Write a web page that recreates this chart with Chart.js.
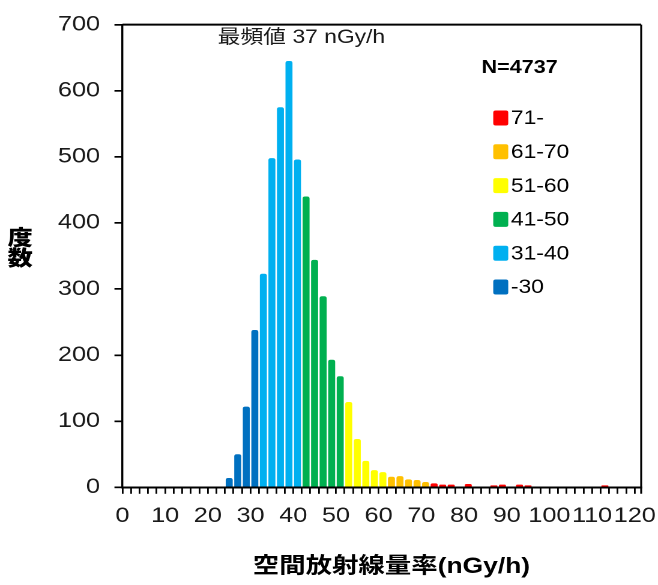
<!DOCTYPE html>
<html>
<head>
<meta charset="utf-8">
<script src="https://cdn.jsdelivr.net/npm/chart.js@4"></script>
<style>
  html, body { margin: 0; padding: 0; background: #fff; overflow: hidden; }
  /* chart is laid out narrow and widened to the final 658px */
  #wrap { position: absolute; left: 0; top: 0; width: 548px; height: 585px;
          transform: scaleX(1.2007); transform-origin: 0 0; }
</style>
</head>
<body>
<div id="wrap"><canvas id="hist"></canvas></div>
<script>
// histogram bars, one per 2 nGy/h bin (bar sits over [c-1, c+1])
const binCenters = [25, 27, 29, 31, 33, 35, 37, 39, 41, 43, 45, 47, 49, 51, 53, 55, 57, 59, 61,
                    63, 65, 67, 69, 71, 73, 75, 77, 81, 87, 89, 93, 95, 113];
const counts = [14, 50, 122, 238, 323, 498, 575, 645, 496, 440, 344, 289, 193, 168, 129, 73, 40, 26, 23,
                16, 17, 12, 11, 8, 6, 4, 4, 5, 3, 4, 4, 3, 3];

// colour classes
const groupLabels = ['-30', '31-40', '41-50', '51-60', '61-70', '71-'];
const groupUpper = [30, 40, 50, 60, 70, Infinity];
const groupColors = ['#0070C0', '#00B0F0', '#00B050', '#FFFF00', '#FFC000', '#FF0000'];

const yTicks = [0, 100, 200, 300, 400, 500, 600, 700];
const xLabelStep = 10;

const totalN = 4737;
const modeText = '最頻値 37 nGy/h';
const xTitle = '空間放射線量率(nGy/h)';
const yTitle = ['度', '数'];

function colorFor(c) {
    for (let i = 0; i < groupUpper.length; i++) {
        if (c - 1 <= groupUpper[i]) return groupColors[i];
    }
    return groupColors[groupColors.length - 1];
}

const tickFont = { family: "'Liberation Sans', Arial, sans-serif", size: 21 };

const decor = {
    id: 'decor',
    afterDraw(chart) {
        const { ctx, chartArea: a } = chart;
        ctx.save();
        // frame top and right (right edge runs down like a tick)
        ctx.strokeStyle = '#000';
        ctx.lineWidth = 2;
        ctx.beginPath();
        ctx.moveTo(a.left, a.top);
        ctx.lineTo(a.right, a.top);
        ctx.stroke();
        ctx.lineWidth = 1.6;
        ctx.beginPath();
        ctx.moveTo(a.right, a.top);
        ctx.lineTo(a.right, a.bottom + 6.5);
        ctx.stroke();

        ctx.fillStyle = '#1a1a1a';
        ctx.textBaseline = 'middle';

        // mode note
        ctx.textAlign = 'center';
        ctx.font = "19px 'Liberation Sans', 'Noto Sans CJK JP', sans-serif";
        ctx.fillText(modeText, 251, 38);

        // N
        ctx.textAlign = 'left';
        ctx.fillStyle = '#000';
        ctx.font = "bold 18px 'Liberation Sans Narrow', 'Liberation Sans', sans-serif";
        ctx.fillText('N=' + totalN, 401, 68);

        // legend, last class on top
        ctx.font = "19px 'Liberation Sans', Arial, sans-serif";
        for (let i = groupLabels.length - 1, row = 0; i >= 0; i--, row++) {
            const y = 118 + row * 33.8;
            ctx.fillStyle = groupColors[i];
            ctx.beginPath();
            ctx.roundRect(410.8, y - 7.5, 12.5, 15, 2);
            ctx.fill();
            ctx.fillStyle = '#000';
            ctx.fillText(groupLabels[i], 425.5, y + 1);
        }

        // axis titles
        ctx.fillStyle = '#000';
        ctx.textAlign = 'center';
        ctx.font = "bold 22px 'Liberation Sans', 'Noto Sans CJK JP', sans-serif";
        ctx.fillText(xTitle, 326, 567);
        ctx.font = "900 21px 'Noto Sans CJK JP', sans-serif";
        ctx.fillText(yTitle[0], 16.7, 237);
        ctx.fillText(yTitle[1], 16.7, 257.5);
        ctx.restore();
    }
};

new Chart(document.getElementById('hist'), {
    type: 'bar',
    data: {
        datasets: [{
            data: binCenters.map((c, i) => ({ x: c, y: counts[i] })),
            backgroundColor: binCenters.map(colorFor),
            borderWidth: 0,
            borderRadius: { topLeft: 2, topRight: 2 },
            borderSkipped: 'bottom',
            barPercentage: 1.0,
            categoryPercentage: 0.82
        }]
    },
    options: {
        responsive: true,
        maintainAspectRatio: false,
        animation: false,
        devicePixelRatio: 2,
        layout: { padding: { top: 19.5, right: 14, left: 0, bottom: 0 } },
        plugins: { legend: { display: false }, tooltip: { enabled: false } },
        scales: {
            x: {
                type: 'linear',
                min: 0,
                max: 121.5,
                offset: false,
                z: 1,
                grid: { offset: false, drawOnChartArea: false, drawTicks: true, tickLength: 6.5,
                        color: '#000', lineWidth: 1.4 },
                border: { color: '#000', width: 2 },
                ticks: {
                    stepSize: 2,
                    includeBounds: false,
                    autoSkip: false,
                    maxRotation: 0,
                    padding: 10,
                    color: '#1a1a1a',
                    font: tickFont,
                    callback: v => (v % xLabelStep === 0 ? v : '')
                },
                afterFit: s => { s.height = 97.7; s.paddingRight = 0; }
            },
            y: {
                min: yTicks[0],
                max: yTicks[yTicks.length - 1],
                grid: { drawOnChartArea: false, drawTicks: true, tickLength: 6.7,
                        color: '#000', lineWidth: 1.7 },
                border: { color: '#000', width: 1.7 },
                ticks: {
                    stepSize: 100,
                    padding: 12,
                    color: '#1a1a1a',
                    font: tickFont
                },
                afterFit: s => { s.width = 102; }
            }
        }
    },
    plugins: [decor]
});
</script>
</body>
</html>
